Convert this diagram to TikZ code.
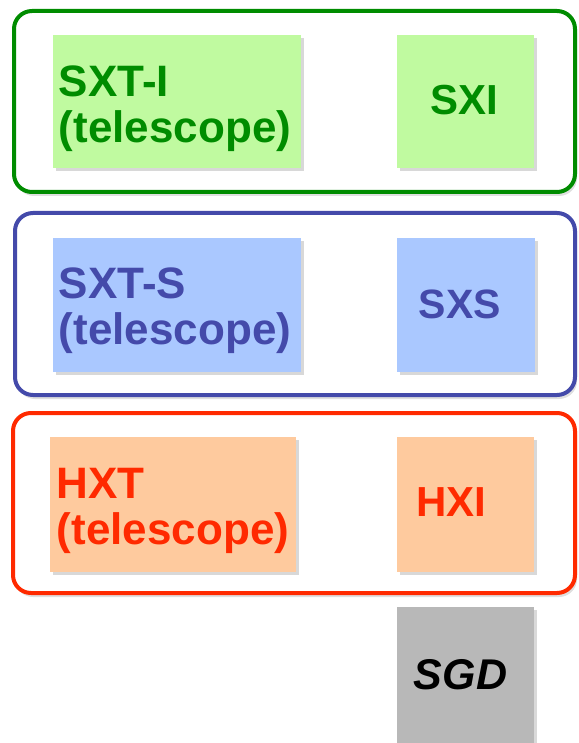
\documentclass[tikz,border=0pt]{standalone}
\usepackage{fontspec}
\setmainfont{Liberation Sans}
\usetikzlibrary{shadows}
\definecolor{gtxt}{RGB}{0,140,0}
\definecolor{gfill}{RGB}{192,250,160}
\definecolor{btxt}{RGB}{68,74,170}
\definecolor{bfill}{RGB}{170,200,255}
\definecolor{rtxt}{RGB}{255,42,0}
\definecolor{rfill}{RGB}{254,202,158}
\definecolor{sfill}{RGB}{184,184,184}
\tikzset{
  grp/.style={draw=#1, line width=4pt, rounded corners=18pt, fill=white,
    drop shadow={opacity=0.25, shadow xshift=2pt, shadow yshift=-4pt}},
  blk/.style={fill=#1, draw=none, inner sep=0pt,
    drop shadow={opacity=0.3, shadow xshift=3pt, shadow yshift=-3pt}},
  lbl/.style={text=#1, font=\bfseries\fontsize{44}{46}\selectfont, align=left, inner sep=0pt},
}
\begin{document}
\begin{tikzpicture}[x=1pt,y=-1pt]
\useasboundingbox (0,0) rectangle (578,743);
% group frames
\path[grp=gtxt] (14,11) rectangle (575,192);
\path[grp=btxt] (15,213) rectangle (575,395);
\path[grp=rtxt] (13,413) rectangle (575,593);
% blocks
\node[blk=gfill, minimum width=248pt, minimum height=133pt] (sxti) at (177,101.5) {};
\node[blk=gfill, minimum width=137pt, minimum height=133pt] (sxi) at (465.5,101.5) {};
\node[blk=bfill, minimum width=248pt, minimum height=134pt] (sxts) at (177,305) {};
\node[blk=bfill, minimum width=138pt, minimum height=134pt] (sxs) at (466,305) {};
\node[blk=rfill, minimum width=246pt, minimum height=135pt] (hxt) at (173,504.5) {};
\node[blk=rfill, minimum width=137pt, minimum height=135pt] (hxi) at (465.5,504.5) {};
\node[blk=sfill, minimum width=137pt, minimum height=140pt] (sgd) at (465.5,677) {};
% labels
\node[lbl=gtxt] (tsxti) at ([xshift=-2pt,yshift=-7pt]sxti.center) {SXT-I\\(telescope)};
\node[lbl=gtxt, font=\bfseries\fontsize{42}{46}\selectfont] (tsxi) at ([xshift=-1pt,yshift=1pt]sxi.center) {SXI};
\node[lbl=btxt] (tsxts) at ([xshift=-2pt,yshift=-6pt]sxts.center) {SXT-S\\(telescope)};
\node[lbl=btxt, font=\bfseries\fontsize{41}{46}\selectfont] (tsxs) at ([xshift=-6pt,yshift=1pt]sxs.center) {SXS};
\node[lbl=rtxt] (thxt) at ([xshift=0pt,yshift=-6pt]hxt.center) {HXT\\(telescope)};
\node[lbl=rtxt, font=\bfseries\fontsize{42}{46}\selectfont] (thxi) at ([xshift=-14pt,yshift=2pt]hxi.center) {HXI};
\node[lbl=black, font=\bfseries\itshape\fontsize{43}{46}\selectfont] (tsgd) at ([xshift=-5pt,yshift=2pt]sgd.center) {SGD};
\end{tikzpicture}
\end{document}
